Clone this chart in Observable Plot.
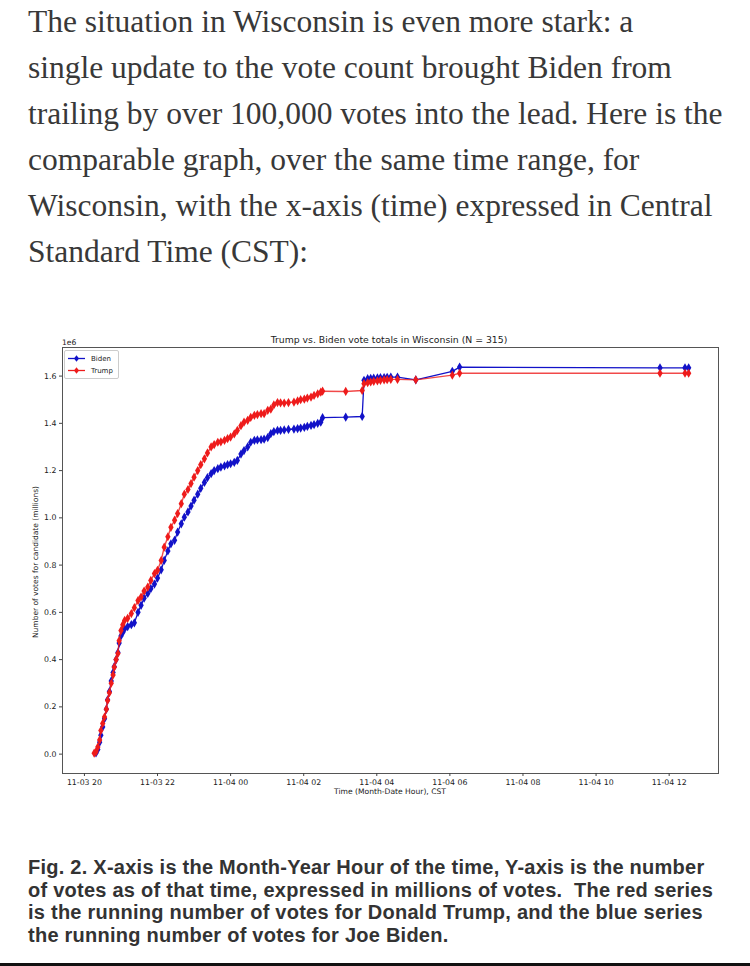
<!DOCTYPE html>
<html>
<head>
<meta charset="utf-8">
<script src="https://cdn.jsdelivr.net/npm/d3@7"></script>
<script src="https://cdn.jsdelivr.net/npm/@observablehq/plot@0.6"></script>
<style>
  html, body { margin: 0; padding: 0; background: #fff; }
  body { width: 750px; height: 966px; position: relative; overflow: hidden; }
  .para { position: absolute; left: 28px; top: -1px; font-family: "Liberation Serif", serif; font-size: 31.5px; line-height: 46px; color: #383838; white-space: nowrap; }
  .cap { position: absolute; left: 28px; top: 856px; font-family: "Liberation Sans", Arial, sans-serif; font-weight: bold; font-size: 20px; letter-spacing: 0.25px; line-height: 22.7px; color: #333; white-space: nowrap; }
  .rule { position: absolute; left: 0; top: 963px; width: 750px; height: 3px; background: #111; }
  #chart { position: absolute; left: 0; top: 330px; }
  .ov { position: absolute; font-family: "DejaVu Sans", sans-serif; color: #222; white-space: nowrap; }
  .legend { position: absolute; left: 64px; top: 350px; width: 53px; height: 27px; border: 1px solid #ccc; border-radius: 2px; background: #fff; }
</style>
</head>
<body>
<div class="para">
  <div>The situation in Wisconsin is even more stark: a</div>
  <div>single update to the vote count brought Biden from</div>
  <div>trailing by over 100,000 votes into the lead. Here is the</div>
  <div>comparable graph, over the same time range, for</div>
  <div>Wisconsin, with the x-axis (time) expressed in Central</div>
  <div>Standard Time (CST):</div>
</div>
<div id="chart"></div>
<div class="cap">
  <div>Fig. 2. X-axis is the Month-Year Hour of the time, Y-axis is the number</div>
  <div>of votes as of that time, expressed in millions of votes.&nbsp; The red series</div>
  <div>is the running number of votes for Donald Trump, and the blue series</div>
  <div>the running number of votes for Joe Biden.</div>
</div>
<div class="rule"></div>
<script>
// ---- data (time in CST, "MM-DD HH:MM"; votes in millions) ----
const trumpTimes = ["11-03 20:16","11-03 20:19","11-03 20:22","11-03 20:25","11-03 20:27","11-03 20:30","11-03 20:33","11-03 20:36","11-03 20:38","11-03 20:41","11-03 20:44","11-03 20:47","11-03 20:49","11-03 20:52","11-03 20:55","11-03 20:57","11-03 21:00","11-03 21:03","11-03 21:06","11-03 21:11","11-03 21:17","11-03 21:22","11-03 21:28","11-03 21:33","11-03 21:38","11-03 21:44","11-03 21:49","11-03 21:55","11-03 22:00","11-03 22:06","11-03 22:11","11-03 22:17","11-03 22:22","11-03 22:28","11-03 22:33","11-03 22:39","11-03 22:44","11-03 22:50","11-03 22:55","11-03 23:00","11-03 23:06","11-03 23:11","11-03 23:17","11-03 23:22","11-03 23:28","11-03 23:33","11-03 23:39","11-03 23:44","11-03 23:50","11-03 23:55","11-04 00:00","11-04 00:06","11-04 00:11","11-04 00:17","11-04 00:22","11-04 00:28","11-04 00:33","11-04 00:39","11-04 00:44","11-04 00:50","11-04 00:55","11-04 01:01","11-04 01:06","11-04 01:11","11-04 01:17","11-04 01:22","11-04 01:28","11-04 01:35","11-04 01:44","11-04 01:50","11-04 01:55","11-04 02:01","11-04 02:06","11-04 02:12","11-04 02:17","11-04 02:23","11-04 02:28","11-04 02:31","11-04 03:09","11-04 03:36","11-04 03:39","11-04 03:45","11-04 03:50","11-04 03:55","11-04 04:01","11-04 04:06","11-04 04:12","11-04 04:17","11-04 04:23","11-04 04:34","11-04 05:04","11-04 06:04","11-04 06:16","11-04 11:45","11-04 12:26","11-04 12:32"];
const trumpVotes = [0.004,0.01,0.03,0.06,0.10,0.13,0.157,0.19,0.227,0.26,0.30,0.335,0.368,0.40,0.426,0.48,0.523,0.548,0.566,0.575,0.595,0.62,0.65,0.665,0.69,0.707,0.735,0.764,0.778,0.82,0.876,0.92,0.96,0.99,1.018,1.06,1.10,1.12,1.145,1.172,1.20,1.225,1.25,1.275,1.30,1.31,1.32,1.322,1.328,1.335,1.342,1.355,1.37,1.39,1.405,1.413,1.425,1.434,1.437,1.441,1.441,1.455,1.46,1.478,1.488,1.487,1.486,1.488,1.49,1.495,1.50,1.503,1.507,1.511,1.518,1.525,1.532,1.536,1.535,1.539,1.568,1.572,1.575,1.578,1.58,1.582,1.584,1.585,1.586,1.586,1.584,1.604,1.612,1.612,1.612,1.612];

const bidenTimes = ["11-03 20:19","11-03 20:22","11-03 20:25","11-03 20:27","11-03 20:30","11-03 20:33","11-03 20:36","11-03 20:38","11-03 20:41","11-03 20:44","11-03 20:47","11-03 20:49","11-03 20:52","11-03 20:55","11-03 20:57","11-03 21:00","11-03 21:03","11-03 21:06","11-03 21:11","11-03 21:17","11-03 21:22","11-03 21:28","11-03 21:33","11-03 21:38","11-03 21:44","11-03 21:49","11-03 21:55","11-03 22:00","11-03 22:06","11-03 22:11","11-03 22:17","11-03 22:22","11-03 22:28","11-03 22:33","11-03 22:39","11-03 22:44","11-03 22:50","11-03 22:55","11-03 23:00","11-03 23:06","11-03 23:11","11-03 23:17","11-03 23:22","11-03 23:28","11-03 23:33","11-03 23:39","11-03 23:44","11-03 23:50","11-03 23:55","11-04 00:00","11-04 00:06","11-04 00:11","11-04 00:17","11-04 00:22","11-04 00:28","11-04 00:33","11-04 00:39","11-04 00:44","11-04 00:50","11-04 00:55","11-04 01:01","11-04 01:06","11-04 01:11","11-04 01:17","11-04 01:22","11-04 01:28","11-04 01:35","11-04 01:44","11-04 01:50","11-04 01:55","11-04 02:01","11-04 02:06","11-04 02:12","11-04 02:17","11-04 02:23","11-04 02:28","11-04 02:31","11-04 03:09","11-04 03:36","11-04 03:39","11-04 03:45","11-04 03:50","11-04 03:55","11-04 04:01","11-04 04:06","11-04 04:12","11-04 04:17","11-04 04:23","11-04 04:34","11-04 05:04","11-04 06:04","11-04 06:16","11-04 11:45","11-04 12:26","11-04 12:32"];
const bidenVotes = [0.005,0.02,0.05,0.08,0.115,0.15,0.19,0.23,0.265,0.31,0.345,0.37,0.40,0.43,0.47,0.50,0.515,0.53,0.54,0.548,0.556,0.60,0.63,0.66,0.68,0.70,0.72,0.745,0.78,0.82,0.86,0.89,0.905,0.94,0.975,1.003,1.025,1.05,1.075,1.10,1.125,1.15,1.17,1.187,1.20,1.208,1.215,1.22,1.225,1.229,1.235,1.243,1.27,1.285,1.30,1.32,1.328,1.33,1.331,1.333,1.34,1.356,1.365,1.37,1.37,1.372,1.374,1.376,1.378,1.38,1.383,1.387,1.391,1.395,1.40,1.405,1.424,1.426,1.429,1.582,1.589,1.59,1.591,1.592,1.593,1.594,1.595,1.596,1.596,1.584,1.62,1.638,1.635,1.635,1.635];

const seriesNames = ["Biden", "Trump"];
const seriesColors = ["#1212c8", "#ee1b1b"];
const xTickLabels = ["11-03 20","11-03 22","11-04 00","11-04 02","11-04 04","11-04 06","11-04 08","11-04 10","11-04 12"];
const yTickValues = [0.0, 0.2, 0.4, 0.6, 0.8, 1.0, 1.2, 1.4, 1.6];
const titleText = "Trump vs. Biden vote totals in Wisconsin (N = 315)";
const xLabel = "Time (Month-Date Hour), CST";
const yLabel = "Number of votes for candidate (millions)";

// ---- build ----
const parseT = s => new Date(`2020-${s.replace(" ", "T")}:00Z`);
const biden = bidenTimes.map((t, i) => ({series: "Biden", time: parseT(t), votes: bidenVotes[i]}));
const trump = trumpTimes.map((t, i) => ({series: "Trump", time: parseT(t), votes: trumpVotes[i]}));
const xTicks = xTickLabels.map(l => parseT(l + ":00"));
const fmt = d3.utcFormat("%m-%d %H");

const W = 750, H = 480;
const chart = Plot.plot({
  width: W, height: H,
  marginLeft: 62, marginRight: 32, marginTop: 17, marginBottom: 37,
  style: {fontFamily: "DejaVu Sans, sans-serif", fontSize: "7.8px", color: "#222", background: "#fff"},
  x: {type: "utc", domain: [parseT("11-03 19:24"), parseT("11-04 13:21")]},
  y: {domain: [-0.082, 1.721]},
  marks: [
    Plot.frame({stroke: "#555", strokeWidth: 1}),
    Plot.axisX({ticks: xTicks, tickFormat: fmt, tickSize: 3, tickPadding: 3, label: null, stroke: "#444"}),
    Plot.axisY({ticks: yTickValues, tickFormat: d3.format(".1f"), tickSize: 3, tickPadding: 3, label: null, stroke: "#444"}),
    Plot.line(biden, {x: "time", y: "votes", stroke: seriesColors[0], strokeWidth: 1.3}),
    Plot.dot(biden, {x: "time", y: "votes", symbol: "diamond", r: 2.8, fill: seriesColors[0]}),
    Plot.line(trump, {x: "time", y: "votes", stroke: seriesColors[1], strokeWidth: 1.4, strokeOpacity: 0.8}),
    Plot.dot(trump, {x: "time", y: "votes", symbol: "diamond", r: 2.8, fill: seriesColors[1]})
  ]
});
document.getElementById("chart").appendChild(chart);

// overlay texts (title, offset, axis labels, legend)
function ov(text, css) {
  const d = document.createElement("div");
  d.className = "ov";
  d.textContent = text;
  Object.assign(d.style, css);
  document.body.appendChild(d);
  return d;
}
ov(titleText, {left: "0px", width: "778px", textAlign: "center", top: "334px", fontSize: "9.3px"});
ov("1e6", {left: "62px", top: "338px", fontSize: "7.6px"});
ov(xLabel, {left: "62px", width: "656px", textAlign: "center", top: "787px", fontSize: "7.6px"});
ov(yLabel, {left: "35px", top: "562px", fontSize: "7.5px", transform: "translate(-50%,-50%) rotate(-90deg)"});

const lg = document.createElement("div");
lg.className = "legend";
lg.innerHTML = seriesNames.map((n, i) => `
  <div style="position:absolute;left:3px;top:${2 + i * 12}px;height:11px;display:flex;align-items:center;">
    <svg width="17" height="9"><line x1="0" x2="17" y1="4.5" y2="4.5" stroke="${seriesColors[i]}" stroke-width="1.3"/>
    <path d="M8.5 1.2 L11 4.5 L8.5 7.8 L6 4.5 Z" fill="${seriesColors[i]}"/></svg>
    <span style="font-family:'DejaVu Sans',sans-serif;font-size:7px;color:#222;margin-left:6px">${n}</span>
  </div>`).join("");
document.body.appendChild(lg);
</script>
</body>
</html>
